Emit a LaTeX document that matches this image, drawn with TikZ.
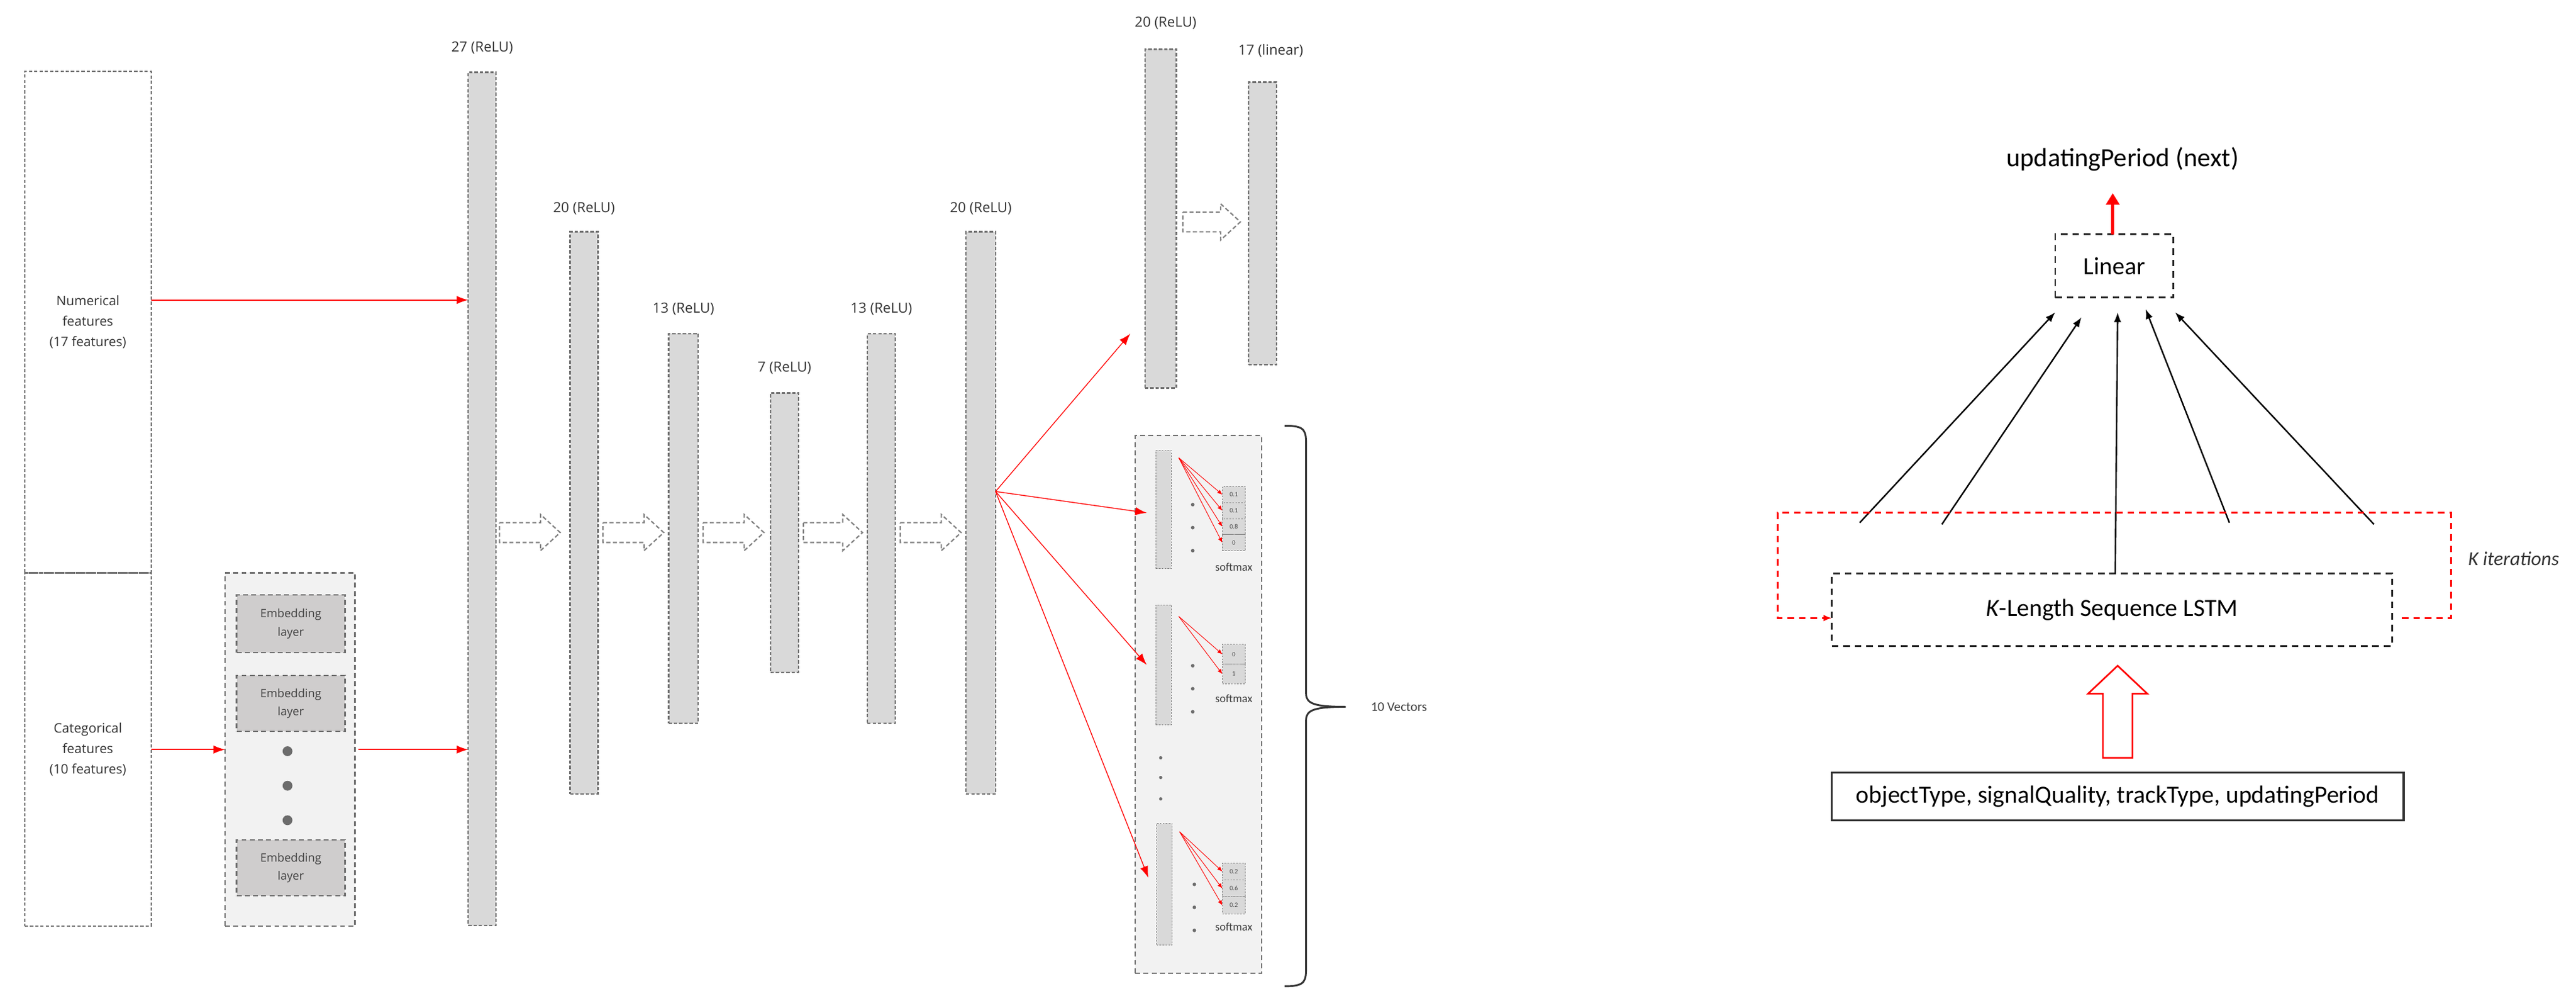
\documentclass[tikz,border=0pt]{standalone}
\usepackage{fontspec}
\setmainfont{Carlito}
\newfontfamily\osans{Open Sans}
\usetikzlibrary{arrows.meta,calc}
\definecolor{colgray}{HTML}{D9D9D9}
\definecolor{boxgray}{HTML}{F2F2F2}
\definecolor{embgray}{HTML}{CFCDCD}
\definecolor{edgegray}{HTML}{707070}
\begin{document}
\begin{tikzpicture}[x=1pt,y=-1pt,
  base/.style={inner sep=0,outer sep=0},
  col/.style={base,draw=edgegray,fill=colgray,dash pattern=on 2pt off 1.2pt,line width=0.9pt},
  inbox/.style={base,draw=edgegray,dash pattern=on 2pt off 1.2pt,line width=0.9pt,align=center,font=\osans\fontsize{8}{12.5}\selectfont,text=black!80},
  cont/.style={base,draw=edgegray,fill=boxgray,dash pattern=on 3pt off 2pt,line width=0.9pt},
  emb/.style={base,draw=edgegray,fill=embgray,dash pattern=on 3pt off 2pt,line width=0.9pt,align=center,font=\osans\fontsize{7}{11}\selectfont,text=black!75},
  bar/.style={base,draw=gray,fill=colgray,dash pattern=on 1pt off 0.8pt,line width=0.4pt},
  cell/.style={base,draw=gray,fill=colgray,dash pattern=on 1pt off 0.8pt,line width=0.4pt,font=\fontsize{4}{4}\selectfont,text=black!70},
  lab/.style={font=\osans\fontsize{8.5}{10}\selectfont,text=black!80},
  sm/.style={font=\fontsize{7}{8}\selectfont,text=black!75},
  rarr/.style={draw=red,line width=0.7pt,-{Latex[length=7pt,width=5pt]}},
  rsm/.style={draw=red,line width=0.35pt,-{Latex[length=3pt,width=2.6pt]}},
  hol/.style={draw=gray,dash pattern=on 2.5pt off 1.5pt,line width=0.8pt,fill=white},
  dot/.style={circle,fill=gray!85!black,inner sep=0,minimum size=#1},
  dbox/.style={base,draw=black!85,dash pattern=on 4pt off 3pt,line width=1.1pt,font=\fontsize{15}{18}\selectfont},
  barr/.style={draw=black,line width=0.9pt,-{Latex[length=6pt,width=4.5pt]}}]
\useasboundingbox (0,0) rectangle (1568,613);
\newcommand\hollowarr[3]{\draw[hol] (#1,{#3-6}) -- ({#2-12},{#3-6}) -- ({#2-12},{#3-11}) -- (#2,#3) -- ({#2-12},{#3+11}) -- ({#2-12},{#3+6}) -- (#1,{#3+6}) -- cycle;}
% inputs
\node[inbox,minimum width=77,minimum height=305,anchor=north west] (nb) at (15,43.5) {Numerical\\features\\(17 features)};
\node[inbox,minimum width=77,minimum height=215,anchor=north west] (cb) at (15,348.5) {Categorical\\features\\(10 features)};
\node[cont,minimum width=79,minimum height=215,anchor=north west] (embc) at (137,348.5) {};
\node[emb,minimum width=66,minimum height=35,anchor=north west] (e1) at (144,362) {Embedding\\layer};
\node[emb,minimum width=66,minimum height=34,anchor=north west] (e2) at (144,411) {Embedding\\layer};
\node[emb,minimum width=66,minimum height=34,anchor=north west] (e3) at (144,511) {Embedding\\layer};
\node[dot=6pt] (ed1) at (175,457) {};
\node[dot=6pt] (ed2) at (175,478) {};
\node[dot=6pt] (ed3) at (175,499) {};
% columns
\node[col,minimum width=17,minimum height=519,anchor=north west] (c27) at (285,44) {};
\node[col,minimum width=17,minimum height=342,anchor=north west] (c20) at (347,141) {};
\node[col,minimum width=18,minimum height=237,anchor=north west] (c13) at (407,203) {};
\node[col,minimum width=17,minimum height=170,anchor=north west] (c7) at (469,239) {};
\node[col,minimum width=17,minimum height=237,anchor=north west] (c13b) at (528,203) {};
\node[col,minimum width=18,minimum height=342,anchor=north west] (c20b) at (588,141) {};
\node[col,minimum width=19,minimum height=206,anchor=north west] (c20t) at (697,30) {};
\node[col,minimum width=17,minimum height=172,anchor=north west] (c17) at (760,50) {};
\node[lab] (l27) at ([yshift=15pt]c27.north) {27 (ReLU)};
\node[lab] (l20) at ([yshift=14pt]c20.north) {20 (ReLU)};
\node[lab] (l13) at ([yshift=15pt]c13.north) {13 (ReLU)};
\node[lab] (l7) at ([yshift=15pt]c7.north) {7 (ReLU)};
\node[lab] (l13b) at ([yshift=15pt]c13b.north) {13 (ReLU)};
\node[lab] (l20b) at ([yshift=14pt]c20b.north) {20 (ReLU)};
\node[lab] (l20t) at ([yshift=16pt,xshift=3pt]c20t.north) {20 (ReLU)};
\node[lab] (l17) at ([yshift=19pt,xshift=5pt]c17.north) {17 (linear)};
\hollowarr{304}{341}{324}
\hollowarr{367}{404}{324}
\hollowarr{428}{465}{324}
\hollowarr{489}{525}{324}
\hollowarr{548}{585}{324}
\hollowarr{720}{755}{135}
% input arrows
\coordinate (a1) at ([yshift=13.5pt]nb.east);
\draw[rarr] (a1) -- (a1 -| c27.west);
\draw[rarr] (cb.east) -- (cb.east -| embc.west);
\draw[rarr] ([xshift=2pt]embc.east) -- (embc.east -| c27.west);
% output container
\node[cont,minimum width=77,minimum height=327,anchor=north west] (oc) at (691,265) {};
\node[bar,minimum width=9.5,minimum height=72,anchor=north west] (b1) at (703.5,274) {};
\node[bar,minimum width=9.5,minimum height=73,anchor=north west] (b2) at (703.5,368) {};
\node[bar,minimum width=9.5,minimum height=74,anchor=north west] (b3) at (704,501) {};
\foreach \y/\v [count=\i] in {296/0.1,305.75/0.1,315.5/0.8,325.25/0}
  \node[cell,minimum width=14,minimum height=9.75,anchor=north west] (p\i) at (744,\y) {\v};
\foreach \y/\v [count=\i] in {392/0,404/1}
  \node[cell,minimum width=14,minimum height=12,anchor=north west] (q\i) at (744,\y) {\v};
\foreach \y/\v [count=\i] in {525/0.2,535.3/0.6,545.6/0.2}
  \node[cell,minimum width=14,minimum height=10.3,anchor=north west] (r\i) at (744,\y) {\v};
\node[sm] (s1) at (751,345) {softmax};
\node[sm] (s2) at (751,425) {softmax};
\node[sm] (s3) at (751,564) {softmax};
\foreach \y [count=\i] in {307,321,335} \node[dot=2.2pt] (da\i) at (726,\y) {};
\foreach \y [count=\i] in {405,419,433} \node[dot=2.2pt] (db\i) at (726,\y) {};
\foreach \y [count=\i] in {538,552,566} \node[dot=2.2pt] (dc\i) at (727,\y) {};
\foreach \y [count=\i] in {461,473,486} \node[dot=2pt] (dv\i) at (706.5,\y) {};
\coordinate (f1) at ([xshift=4.5pt,yshift=-4.5pt]b1.north east);
\coordinate (f2) at ([xshift=4.5pt,yshift=-7pt]b2.north east);
\coordinate (f3) at ([xshift=4.5pt,yshift=-5pt]b3.north east);
\foreach \i in {1,...,4} \draw[rsm] (f1) -- (p\i.west);
\foreach \i in {1,2} \draw[rsm] (f2) -- (q\i.west);
\foreach \i in {1,2,3} \draw[rsm] (f3) -- (r\i.west);
% fan from c20b
\coordinate (fo) at ([yshift=13pt]c20b.east);
\draw[rarr,line width=0.5pt] (fo) -- ([xshift=-9pt,yshift=-70pt]c20t.west);
\draw[rarr,line width=0.5pt] (fo) -- ([xshift=-5.5pt,yshift=-2pt]b1.west);
\draw[rarr,line width=0.5pt] (fo) -- ([xshift=-5.5pt]b2.west);
\draw[rarr,line width=0.5pt] (fo) -- ([xshift=-5pt,yshift=4pt]b3.west);
% brace
\draw[line width=1.1pt,black!80] (782,259) .. controls (795,259) and (795,262) .. (795,272) -- (795,422) .. controls (795,428) and (800,430) .. (819,430);
\draw[line width=1.1pt,black!80] (782,600) .. controls (795,600) and (795,597) .. (795,587) -- (795,438) .. controls (795,432) and (800,430) .. (819,430);
\node[sm,anchor=west,font=\fontsize{8}{9}\selectfont] (tv) at (831,430) {10 Vectors};
% right part
\node[font=\fontsize{16}{18}\selectfont] (out) at (1292,97) {updatingPeriod (next)};
\node[dbox,minimum width=72,minimum height=38.5,anchor=north west] (lin) at (1251,142.5) {Linear};
\node[dbox,minimum width=341,minimum height=44,anchor=north west] (lstm) at (1115,349) {\textit{K}-Length Sequence LSTM};
\node[base,draw=black!80,line width=1.3pt,minimum width=348,minimum height=29,anchor=north west,font=\fontsize{15}{18}\selectfont] (inp) at (1115,470) {objectType, signalQuality, trackType, updatingPeriod};
\draw[draw=red,line width=2pt,-{Triangle[length=7pt,width=8pt]}] ([xshift=-1pt]lin.north) -- ([xshift=-1pt,yshift=25pt]lin.north);
\draw[red,line width=1pt] (1280,461) -- (1280,422) -- (1271,422) -- (1289,405) -- (1307,422) -- (1298,422) -- (1298,461) -- cycle;
\coordinate (k1) at (1132,318);
\coordinate (k2) at (1182,319);
\coordinate (k4) at (1357,318);
\coordinate (k5) at (1445,319);
\draw[barr] (k1) -- ([yshift=-9pt]lin.south west);
\draw[barr] (k2) -- ([xshift=16pt,yshift=-12pt]lin.south west);
\draw[barr] ([xshift=2pt]lstm.north) -- ([xshift=2pt,yshift=-9pt]lin.south);
\draw[barr] (k4) -- ([xshift=-17pt,yshift=-7pt]lin.south east);
\draw[barr] (k5) -- ([xshift=1pt,yshift=-9pt]lin.south east);
\coordinate (lp1) at (1082,312);
\coordinate (lp2) at (1492,312);
\draw[red,line width=1pt,dash pattern=on 4pt off 3pt,-{Latex[length=5pt,width=4pt]}] ([xshift=6pt,yshift=-5pt]lstm.east) -| (lp2) -- (lp1) |- ([yshift=-5pt]lstm.west);
\node[font=\itshape\fontsize{12}{14}\selectfont,text=black!80] (kit) at (1530,340) {K iterations};
\end{tikzpicture}
\end{document}
